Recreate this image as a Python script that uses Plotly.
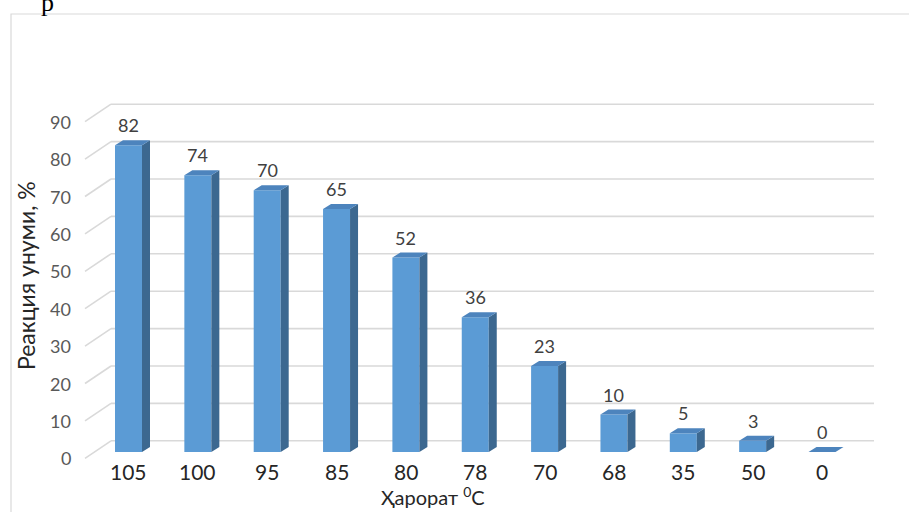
import plotly.graph_objects as go

# Reaction yield (%) at each temperature (°C)
temperatures = ["105", "100", "95", "85", "80", "78", "70", "68", "35", "50", "0"]
yields = [82, 74, 70, 65, 52, 36, 23, 10, 5, 3, 0]
y_ticks = [0, 10, 20, 30, 40, 50, 60, 70, 80, 90]

y_title = "Реакция унуми, %"
x_title = "Ҳарорат <sup>0</sup>C"

W, H = 909, 512

# Pixel geometry of the pseudo-3D projection
PX_PER_CAT = 69.35      # distance between neighbouring columns
PX_PER_UNIT = 3.74      # pixels per percent
X0_PX = 128.5           # centre of the first column
Y0_PX = 452.0           # base line of the column plane

BAR_W = 27 / PX_PER_CAT           # column width
DEPTH_DX = 8 / PX_PER_CAT         # column depth (side face)
DEPTH_DY = 5 / PX_PER_UNIT
FRONT_DY = -6.3 / PX_PER_UNIT     # floor front edge relative to column plane
BACK_DY = 11.2 / PX_PER_UNIT      # back wall relative to column plane
FRONT_LEFT = (85 - X0_PX) / PX_PER_CAT
BACK_LEFT = (111 - X0_PX) / PX_PER_CAT
BACK_RIGHT = (874 - X0_PX) / PX_PER_CAT


def px_x(px):
    return (px - X0_PX) / PX_PER_CAT


def px_y(py):
    return (Y0_PX - py) / PX_PER_UNIT


FRONT = "#5B9BD5"
SIDE = "#3C6890"
TOP = "#4D84BD"
GRID = "#D9D9D9"
FONT = "Lato"

xs = list(range(len(temperatures)))

fig = go.Figure()

# Front faces of the columns
fig.add_trace(go.Bar(
    x=xs, y=yields, width=BAR_W,
    marker=dict(color=FRONT, line=dict(width=0)),
    hoverinfo="skip",
))

# Side and top faces
side_x, side_y, top_x, top_y = [], [], [], []
for i, v in zip(xs, yields):
    xl, xr = i - BAR_W / 2, i + BAR_W / 2
    if v > 0:
        side_x += [xr, xr + DEPTH_DX, xr + DEPTH_DX, xr, xr, None]
        side_y += [0, DEPTH_DY, v + DEPTH_DY, v, 0, None]
    top_x += [xl, xr, xr + DEPTH_DX, xl + DEPTH_DX, xl, None]
    top_y += [v, v, v + DEPTH_DY, v + DEPTH_DY, v, None]

fig.add_trace(go.Scatter(x=side_x, y=side_y, mode="lines", fill="toself",
                         fillcolor=SIDE, line=dict(width=0, color=SIDE),
                         hoverinfo="skip"))
fig.add_trace(go.Scatter(x=top_x, y=top_y, mode="lines", fill="toself",
                         fillcolor=TOP, line=dict(width=0, color=TOP),
                         hoverinfo="skip"))

# Gridlines on the back wall and the left wall
shapes = []
for t in y_ticks:
    shapes.append(dict(type="line", xref="x", yref="y", layer="below",
                       x0=BACK_LEFT, x1=BACK_RIGHT, y0=t + BACK_DY, y1=t + BACK_DY,
                       line=dict(color=GRID, width=1.6)))
    shapes.append(dict(type="line", xref="x", yref="y", layer="below",
                       x0=FRONT_LEFT, x1=BACK_LEFT, y0=t + FRONT_DY, y1=t + BACK_DY,
                       line=dict(color=GRID, width=1.6)))

# Chart frame
shapes.append(dict(type="rect", xref="paper", yref="paper",
                   x0=11 / W, x1=1.02, y0=-0.02, y1=1 - 14 / H,
                   line=dict(color=GRID, width=1.2), fillcolor="rgba(0,0,0,0)"))

annotations = []

# Value labels above the columns
for i, v in zip(xs, yields):
    annotations.append(dict(x=i, y=v + 5.35, xref="x", yref="y", text=str(v),
                            showarrow=False, xanchor="center", yanchor="middle",
                            font=dict(family=FONT, size=18, color="#404040")))

# Category labels
for i, lab in zip(xs, temperatures):
    annotations.append(dict(x=i, y=px_y(471), xref="x", yref="y", text=lab,
                            showarrow=False, xanchor="center", yanchor="middle",
                            font=dict(family=FONT, size=21, color="#262626")))

# Value axis tick labels
for t in y_ticks:
    annotations.append(dict(x=px_x(73), y=t + FRONT_DY, xref="x", yref="y",
                            text=str(t), showarrow=False,
                            xanchor="right", yanchor="middle",
                            font=dict(family=FONT, size=18, color="#595959")))

# Axis titles
annotations.append(dict(x=px_x(433), y=px_y(496), xref="x", yref="y",
                        text=x_title, showarrow=False,
                        xanchor="center", yanchor="middle",
                        font=dict(family=FONT, size=20, color="#262626")))
annotations.append(dict(x=px_x(26), y=px_y(276), xref="x", yref="y",
                        text=y_title, showarrow=False, textangle=-90,
                        xanchor="center", yanchor="middle",
                        font=dict(family=FONT, size=23, color="#262626")))

# Letter of the surrounding page text, partly beyond the top edge
annotations.append(dict(x=px_x(47), y=px_y(2), xref="x", yref="y",
                        text="р", showarrow=False,
                        xanchor="center", yanchor="middle",
                        font=dict(family="Liberation Serif", size=26, color="#000000")))

fig.update_layout(
    width=W, height=H,
    margin=dict(l=0, r=0, t=0, b=0),
    paper_bgcolor="white", plot_bgcolor="white",
    showlegend=False,
    xaxis=dict(visible=False, range=[px_x(0), px_x(W)], fixedrange=True),
    yaxis=dict(visible=False, range=[px_y(H), px_y(0)], fixedrange=True),
    shapes=shapes,
    annotations=annotations,
)

fig.write_html("out.html")
